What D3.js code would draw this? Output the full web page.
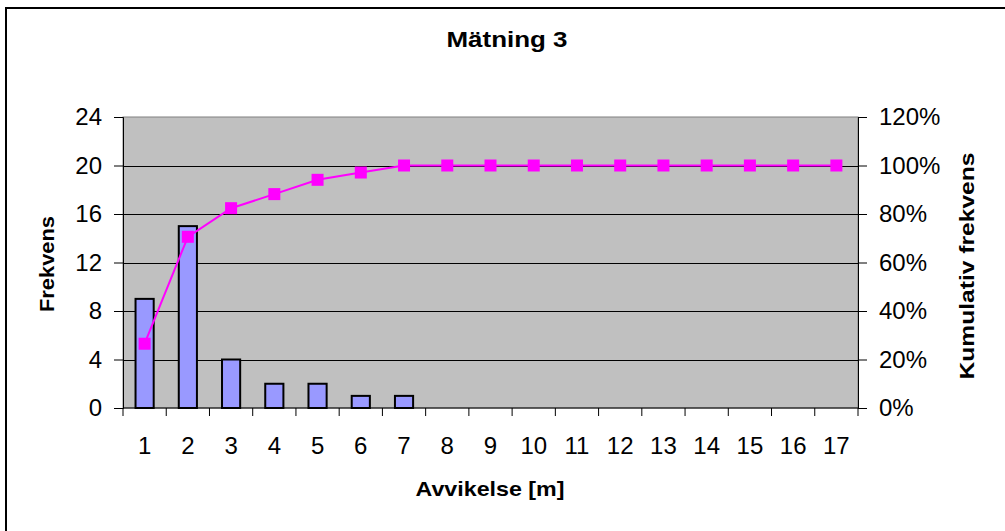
<!DOCTYPE html>
<html>
<head>
<meta charset="utf-8">
<script src="https://cdn.jsdelivr.net/npm/d3@7"></script>
<style>
  html, body { margin: 0; padding: 0; background: #fff; }
  svg { display: block; font-family: Arial, "Liberation Sans", sans-serif; }
</style>
</head>
<body>
<svg id="chart" width="1005" height="531"></svg>
<script>
// Deviation classes (metres)
const categories = ["1","2","3","4","5","6","7","8","9","10","11","12","13","14","15","16","17"];
// Frequency per class
const frequency = [9, 15, 4, 2, 2, 1, 1, 0, 0, 0, 0, 0, 0, 0, 0, 0, 0];
// Cumulative frequency (percent)
const cumulative = [26.5, 70.6, 82.4, 88.2, 94.1, 97.1, 100, 100, 100, 100, 100, 100, 100, 100, 100, 100, 100];
// Axis ticks
const leftTicks = [0, 4, 8, 12, 16, 20, 24];
const rightTicks = [0, 20, 40, 60, 80, 100, 120];

const svg = d3.select("#chart");

const plot = { left: 123, right: 858, top: 117, bottom: 408 };
const tickFont = 24;

// Outer chart frame
svg.append("rect")
  .attr("x", 6).attr("y", 8)
  .attr("width", 1010).attr("height", 540)
  .attr("fill", "#fff").attr("stroke", "#000").attr("stroke-width", 2);

const x = d3.scaleBand().domain(categories).range([plot.left, plot.right]).paddingInner(0.58).paddingOuter(0.29);
const xEdge = d3.scaleBand().domain(categories).range([plot.left, plot.right]);
const yL = d3.scaleLinear().domain([0, 24]).range([plot.bottom, plot.top]);
const yR = d3.scaleLinear().domain([0, 120]).range([plot.bottom, plot.top]);

// Plot area
svg.append("rect")
  .attr("x", plot.left).attr("y", plot.top)
  .attr("width", plot.right - plot.left).attr("height", plot.bottom - plot.top)
  .attr("fill", "#C0C0C0").attr("stroke", "#808080").attr("stroke-width", 1);

// Horizontal gridlines
svg.append("g")
  .selectAll("line")
  .data(leftTicks.filter(t => t > 0 && t < 24))
  .join("line")
  .attr("x1", plot.left).attr("x2", plot.right)
  .attr("y1", d => Math.round(yL(d)) + 0.5).attr("y2", d => Math.round(yL(d)) + 0.5)
  .attr("stroke", "#000").attr("stroke-width", 1);

// Bars
svg.append("g")
  .selectAll("rect")
  .data(frequency.map((v, i) => ({ c: categories[i], v })).filter(d => d.v > 0))
  .join("rect")
  .attr("x", d => x(d.c))
  .attr("y", d => yL(d.v))
  .attr("width", x.bandwidth())
  .attr("height", d => yL(0) - yL(d.v))
  .attr("fill", "#9999FF")
  .attr("stroke", "#000").attr("stroke-width", 2);

// Left axis
const axisL = svg.append("g")
  .attr("transform", `translate(${plot.left},0)`)
  .call(d3.axisLeft(yL).tickValues(leftTicks).tickSize(9).tickPadding(12));
// Right axis
const axisR = svg.append("g")
  .attr("transform", `translate(${plot.right},0)`)
  .call(d3.axisRight(yR).tickValues(rightTicks).tickSize(9).tickPadding(12).tickFormat(d => d + "%"));
// Bottom axis: tick marks at class boundaries, labels at class centres
const axisB = svg.append("g")
  .attr("transform", `translate(0,${plot.bottom})`);
axisB.append("line")
  .attr("x1", plot.left).attr("x2", plot.right)
  .attr("stroke", "#000").attr("stroke-width", 1);
axisB.selectAll("line.tick")
  .data(categories.concat(["end"]))
  .join("line").attr("class", "tick")
  .attr("x1", (d, i) => i < categories.length ? xEdge(d) : plot.right)
  .attr("x2", (d, i) => i < categories.length ? xEdge(d) : plot.right)
  .attr("y1", 0).attr("y2", 8)
  .attr("stroke", "#000");
axisB.selectAll("text")
  .data(categories)
  .join("text")
  .attr("x", d => xEdge(d) + xEdge.bandwidth() / 2)
  .attr("y", 46)
  .attr("text-anchor", "middle")
  .attr("font-size", tickFont)
  .attr("fill", "#000")
  .text(d => d);

[axisL, axisR].forEach(a => {
  a.select(".domain").attr("stroke", "#000");
  a.selectAll(".tick line").attr("stroke", "#000");
  a.selectAll(".tick text").attr("font-size", tickFont).attr("fill", "#000")
    .attr("font-family", "Arial, 'Liberation Sans', sans-serif");
});

// Cumulative line and markers
const line = d3.line()
  .x((d, i) => x(categories[i]) + x.bandwidth() / 2)
  .y(d => yR(d));
svg.append("path")
  .datum(cumulative)
  .attr("d", line)
  .attr("fill", "none")
  .attr("stroke", "#FF00FF").attr("stroke-width", 2);
svg.append("g")
  .selectAll("rect")
  .data(cumulative)
  .join("rect")
  .attr("x", (d, i) => x(categories[i]) + x.bandwidth() / 2 - 6)
  .attr("y", d => yR(d) - 6)
  .attr("width", 12).attr("height", 12)
  .attr("fill", "#FF00FF");

// Titles
svg.append("text")
  .attr("x", 507).attr("y", 47)
  .attr("text-anchor", "middle")
  .attr("font-size", 22).attr("font-weight", "bold")
  .attr("textLength", 121).attr("lengthAdjust", "spacingAndGlyphs")
  .text("Mätning 3");
svg.append("text")
  .attr("x", 490).attr("y", 496)
  .attr("text-anchor", "middle")
  .attr("font-size", 21).attr("font-weight", "bold")
  .attr("textLength", 149).attr("lengthAdjust", "spacingAndGlyphs")
  .text("Avvikelse [m]");
svg.append("text")
  .attr("transform", "translate(54,264) rotate(-90)")
  .attr("text-anchor", "middle")
  .attr("font-size", 21).attr("font-weight", "bold")
  .attr("textLength", 96).attr("lengthAdjust", "spacingAndGlyphs")
  .text("Frekvens");
svg.append("text")
  .attr("transform", "translate(974,266) rotate(-90)")
  .attr("text-anchor", "middle")
  .attr("font-size", 21).attr("font-weight", "bold")
  .attr("textLength", 227).attr("lengthAdjust", "spacingAndGlyphs")
  .text("Kumulativ frekvens");
</script>
</body>
</html>
